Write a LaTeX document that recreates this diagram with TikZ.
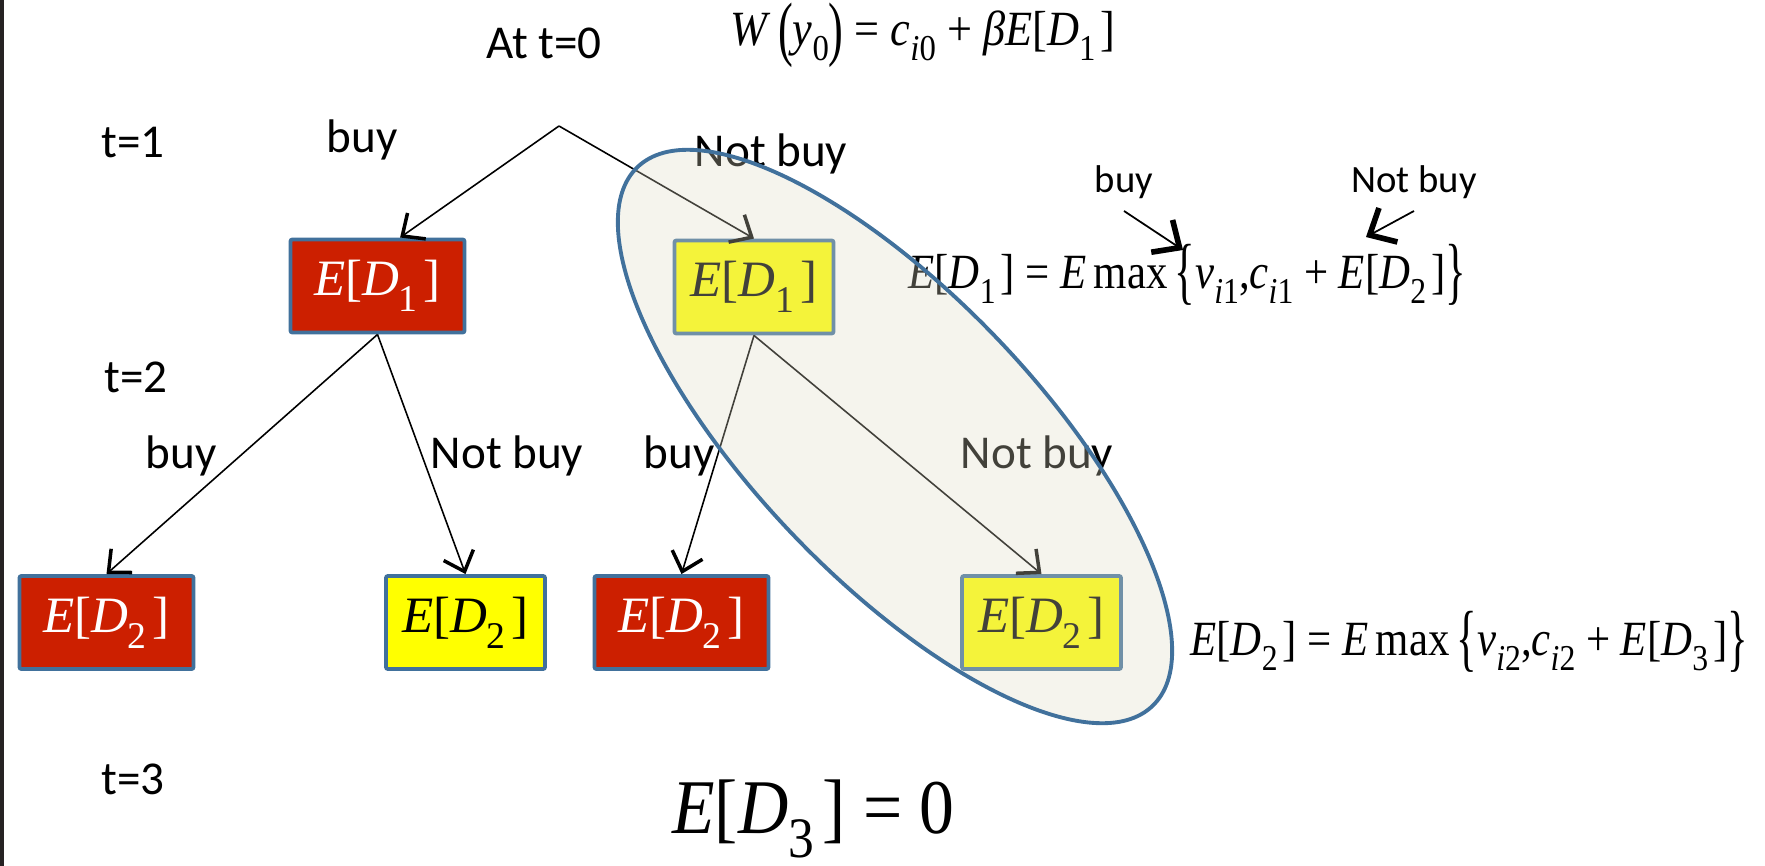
\documentclass[tikz,border=0pt]{standalone}
\usepackage{fontspec}
\setmainfont{Carlito}
\newfontfamily\tnr{Liberation Serif}
\usetikzlibrary{arrows.meta,shapes.geometric}
\definecolor{redfill}{RGB}{204,31,0}
\definecolor{yellowfill}{RGB}{255,255,0}
\definecolor{outline}{RGB}{65,113,156}
\definecolor{shade}{RGB}{221,217,195}
\definecolor{bar}{RGB}{38,34,35}
\newcommand\vi[1]{\textit{#1}}
\newcommand\lo[1]{\raisebox{-0.32em}{\scalebox{0.74}{#1}}}
\newcommand\ED[1]{\vi{E}[\vi{D}\lo{#1}\kern0.12em]}
\newcommand\lbr{\raisebox{-0.16em}{\scalebox{1}[1.5]{\{}}}
\newcommand\rbr{\raisebox{-0.16em}{\scalebox{1}[1.5]{\}}}}
\newcommand\lpa{\raisebox{-0.16em}{\scalebox{1}[1.45]{(}}}
\newcommand\rpa{\raisebox{-0.16em}{\scalebox{1}[1.45]{)}}}
\newcommand\narrow[2]{\scalebox{#1}[1]{#2}}
\tikzset{
  every node/.style={font=\fontsize{13.4}{16}\selectfont},
  redbox/.style={draw=outline,line width=1.1pt,fill=redfill,text=white,
    rounded corners=0.6pt,minimum width=1.74cm,minimum height=0.93cm,
    font=\tnr\fontsize{14.5}{16}\selectfont},
  yellowbox/.style={redbox,fill=yellowfill,text=black,minimum width=1.59cm},
  formula/.style={anchor=base west,font=\tnr\fontsize{14}{16}\selectfont},
  small/.style={font=\fontsize{11}{13}\selectfont},
  branch/.style={-{Straight Barb[length=5pt,width=9pt,line width=1pt]},line width=0.45pt},
  pointer/.style={-{Straight Barb[length=6pt,width=11pt,line width=1.6pt]},line width=0.5pt},
}
\begin{document}
\begin{tikzpicture}[x=0.01cm,y=-0.01cm]
\useasboundingbox (0,0) rectangle (1765,866);
\fill[bar] (0,0) rectangle (4,866);
% time steps
\node (att0) at (544,43) {At t=0};
\node[formula,font=\tnr\fontsize{14}{16}\selectfont] (wzero) at (718,45)
  {\narrow{0.9}{\vi{W}\,\lpa\vi{y}\lo{0}\rpa\ = \vi{c}\lo{\vi{i}0} + \vi{β}\ED{1}}};
\node (t1) at (133,143) {t=1};
\node (t2) at (136,377) {t=2};
\node (t3) at (133,779) {t=3};
% tree
\coordinate (root) at (559,126);
\node[redbox] (d1buy) at (377.5,286) {\ED{1}};
\node[yellowbox] (d1not) at (754,287) {\ED{1}};
\node[redbox] (d2a) at (106.5,622.5) {\ED{2}};
\node[yellowbox] (d2b) at (465.5,622.5) {\ED{2}};
\node[redbox] (d2c) at (681.5,622.5) {\ED{2}};
\node[yellowbox] (d2d) at (1041.5,622.5) {\ED{2}};
\draw[branch] (root) -- (d1buy.65);
\draw[branch] (root) -- (d1not.north);
\draw[branch] (d1buy.south) -- (d2a.north);
\draw[branch] (d1buy.south) -- (d2b.north);
\draw[branch] (d1not.south) -- (d2c.north);
\draw[branch] (d1not.south) -- (d2d.north);
\node (buyone) at (362,140) {buy};
\node (notone) at (771,154) {Not buy};
\node (buya) at (181,456) {buy};
\node (nota) at (507,456) {Not buy};
\node (buyb) at (679,456) {buy};
\node (notb) at (1037,456) {Not buy};
% Bellman equations
\node[formula] (eqone) at (896,288)
  {\narrow{0.87}{\ED{1} = \vi{E}\,max\,\lbr\vi{v}\lo{\vi{i}1},\vi{c}\lo{\vi{i}1} + \ED{2}\rbr}};
\node[formula] (eqtwo) at (1178,655)
  {\narrow{0.87}{\ED{2} = \vi{E}\,max\,\lbr\vi{v}\lo{\vi{i}2},\vi{c}\lo{\vi{i}2} + \ED{3}\rbr}};
\node[small] (pbuy) at (1124,182) {buy};
\node[small] (pnot) at (1414,182) {Not buy};
\coordinate (pbuytip) at (1183,250);
\coordinate (pnottip) at (1366,237);
\draw[pointer] (pbuy.south) -- (pbuytip);
\draw[pointer] (pnot.south) -- (pnottip);
\node[formula,font=\tnr\fontsize{22}{24}\selectfont] (eqend) at (660,833) {\narrow{0.9}{\ED{3} = 0}};
% highlighted branch
\node[draw=outline,line width=1.1pt,fill=shade,fill opacity=0.3,ellipse,inner sep=0pt,
  minimum width=7.45cm,minimum height=2.83cm,rotate=-46.3] (focus) at (895,436.5) {};
\end{tikzpicture}
\end{document}
